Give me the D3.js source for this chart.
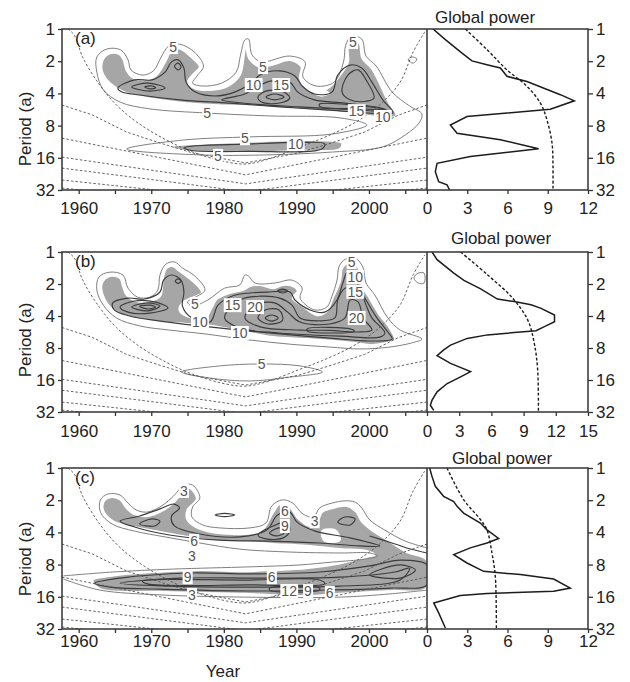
<!DOCTYPE html>
<html>
<head>
<meta charset="utf-8">
<title>Wavelet power spectra</title>
<script src="https://d3js.org/d3.v7.min.js"></script>
<style>
  body { margin: 0; background: #fff; }
</style>
</head>
<body>
<script>
// ---- axes ----
const yearTicks = [1960, 1965, 1970, 1975, 1980, 1985, 1990, 1995, 2000, 2005];
const periodTicks = [0, 1, 2, 3, 4, 5];          // log2 of period (a): 1 ... 32
const powerTicksA = [0, 3, 6, 9, 12];
const powerTicksB = [0, 3, 6, 9, 12, 15];
const powerTicksC = [0, 3, 6, 9, 12];

// ---- cone of influence, [year, log2 period] ----
const coiArc = [[1958.5,0],[1959.4,0.19],[1960.6,0.90],[1962.9,1.74],[1965.2,2.36],[1968.0,2.89],[1971.6,3.39],[1975.7,3.82],[1980.4,4.13],[1983.1,4.19],[1986.0,4.05],[1990.1,3.70],[1993.6,3.39],[1997.0,3.04],[1999.7,2.67],[2001.9,2.27],[2004.3,1.65],[2006.1,0.71],[2007.7,0.09]];
const coiV = [
  [[1957.7,2.36],[1961.9,2.67],[1966.6,3.20],[1971.2,3.54],[1975.7,3.85],[1983.0,4.16],[1990.3,3.85],[1994.8,3.54],[1999.4,3.20],[2004.1,2.67],[2008,2.36]],
  [[1957.7,3.39],[1983,4.53],[2008,3.39]],
  [[1957.7,3.98],[1983,4.81],[2008,3.98]],
  [[1957.7,4.32],[1983,5.05],[2008,4.32]],
  [[1957.7,4.69],[1983,5.3],[2008,4.69]],
  [[1957.7,4.94],[1983,5.5],[2008,4.94]]
];

// ---- panel (a) ----
const shadeA = [
  [[1963.1,1.17],[1963.4,0.91],[1964.3,0.75],[1965.6,0.78],[1966.2,0.96],[1966.6,1.27],[1967.5,1.51],[1969.1,1.58],[1970.7,1.43],[1971.9,1.02],[1972.8,0.65],[1973.9,0.60],[1975.5,0.86],[1976.7,1.17],[1975.8,1.41],[1975.1,1.64],[1976.0,1.84],[1978.1,1.89],[1980.4,1.79],[1982.2,1.43],[1982.7,0.91],[1983.0,0.44],[1983.5,0.91],[1985.0,1.17],[1986.8,1.10],[1989.1,0.96],[1990.7,1.17],[1990.5,1.53],[1991.4,1.84],[1993.2,1.95],[1994.6,1.79],[1996.0,1.43],[1997.1,1.02],[1997.1,0.55],[1997.8,0.34],[1998.7,0.44],[1999.1,0.91],[2000.4,1.22],[2001.5,1.69],[2002.7,2.26],[2003.8,2.69],[2002.4,2.77],[1999.7,2.69],[1996.0,2.59],[1991.4,2.52],[1986.8,2.44],[1982.2,2.39],[1978.5,2.36],[1974.9,2.31],[1971.2,2.21],[1968.4,2.10],[1966.1,1.95],[1964.3,1.69],[1963.4,1.43]],
  [[1972.8,3.66],[1982.2,3.51],[1993.2,3.45],[1996.3,3.54],[1996.0,3.73],[1990.5,3.79],[1980.8,3.85],[1973.9,3.76]]
];
const holesA = [[[1992.5,1.99],[1993.5,1.89],[1994.5,1.99],[1993.5,2.08]]];
const contoursA = [
  {lv: 5, pts: [[1962.5,1.34],[1962.5,0.87],[1963.9,0.62],[1965.8,0.65],[1966.8,0.96],[1967.2,1.27],[1968.8,1.43],[1970.3,1.30],[1971.3,0.90],[1972.4,0.53],[1973.9,0.47],[1975.9,0.71],[1977.2,1.15],[1976.3,1.46],[1975.7,1.68],[1977.0,1.77],[1979.7,1.68],[1981.7,1.34],[1982.3,0.81],[1982.9,0.34],[1983.4,0.31],[1983.9,0.81],[1985.2,1.02],[1989.1,0.84],[1991.2,1.02],[1990.9,1.49],[1992.7,1.77],[1995.2,1.65],[1996.5,1.02],[1996.8,0.50],[1997.6,0.22],[1999.0,0.31],[1999.6,0.84],[2001.0,1.15],[2003.2,1.96],[2005.6,2.39],[2007.3,2.64],[2006.9,2.92],[2005.0,3.29],[2001.9,3.66],[1995.0,3.82],[1985.9,3.91],[1976.7,3.91],[1966.6,3.73],[1974.3,3.45],[1983.6,3.35],[1995.0,3.26],[1999.7,2.98],[1996.0,2.76],[1986.3,2.70],[1977.7,2.61],[1969.8,2.48],[1965.7,2.27],[1963.4,1.89]]},
  {lv: 5, pts: [[2005.4,0.96],[2005.9,0.87],[2006.6,0.93],[2006.1,1.06]]},
  {lv: 10, pts: [[1965.4,1.83],[1967.7,1.58],[1970.1,1.58],[1971.9,1.34],[1972.8,1.02],[1973.7,0.96],[1974.5,1.21],[1974.8,1.65],[1976.1,1.96],[1978.8,2.08],[1981.5,1.96],[1983.6,1.71],[1985.2,1.40],[1987.7,1.30],[1989.8,1.46],[1990.8,1.77],[1992.5,2.02],[1994.9,1.96],[1995.7,1.43],[1997.4,1.12],[1999.0,1.21],[2000.4,1.65],[2001.9,2.20],[2003.3,2.60],[2000.8,2.62],[1994.6,2.52],[1987.7,2.42],[1980.8,2.30],[1973.9,2.20],[1968.4,2.05],[1965.9,1.95]]},
  {lv: 10, pts: [[1974.6,3.68],[1983.6,3.57],[1990.5,3.52],[1993.9,3.57],[1993.5,3.73],[1983.6,3.80],[1975.2,3.76]]},
  {lv: 15, pts: [[1979.7,2.20],[1982.9,2.02],[1984.7,1.77],[1986.6,1.61],[1989.1,1.65],[1990.2,1.96],[1992.5,2.20],[1996.7,2.30],[2001.5,2.45],[2002.6,2.55],[1997.4,2.50],[1990.5,2.42],[1983.6,2.32]]},
  {lv: 15, pts: [[1996.3,1.96],[1997.1,1.43],[1998.5,1.27],[1999.6,1.58],[2000.7,2.14],[1999.4,2.25],[1997.4,2.20]]},
  {lv: 15, pts: [[1967.3,1.80],[1969.5,1.68],[1971.9,1.83],[1969.8,1.93]]},
  {lv: 15, pts: [[1973.2,1.15],[1973.7,1.06],[1974.1,1.18],[1973.7,1.27]]},
  {lv: 20, pts: [[1969.1,1.80],[1970.1,1.77],[1970.6,1.83],[1969.8,1.86]]},
  {lv: 20, pts: [[1984.7,2.11],[1985.8,1.93],[1988.0,1.93],[1989.1,2.14],[1987.7,2.30],[1985.2,2.27]]},
  {lv: 20, pts: [[1993.2,2.33],[2000.1,2.42],[2002.2,2.50],[1998.7,2.48],[1993.2,2.40]]},
  {lv: 25, pts: [[1985.8,2.11],[1987.0,2.02],[1988.3,2.11],[1987.0,2.20]]}
];
const labelsA = [["5",1973.0,0.56],["5",1985.4,1.18],["10",1984.1,1.74],["15",1987.9,1.74],["5",1997.8,0.40],["5",1977.7,2.61],["15",1998.3,2.55],["10",2001.9,2.73],["5",1982.9,3.39],["10",1989.9,3.57],["5",1979.2,3.94]];
const globalA = [[0.45,0],[1.37,0.33],[2.61,0.75],[3.35,0.99],[4.47,1.11],[5.47,1.21],[5.96,1.47],[7.45,1.63],[9.94,2.04],[10.98,2.23],[9.19,2.49],[2.98,2.72],[1.74,2.98],[2.24,3.24],[5.47,3.44],[8.32,3.72],[3.23,3.96],[0.75,4.17],[0.62,4.43],[0.87,4.74],[1.49,4.84],[1.69,5.0]];
const signifA = [[2.86,0],[4.47,0.64],[5.96,1.27],[7.45,1.78],[8.45,2.30],[8.94,2.82],[9.32,3.55],[9.39,4.27],[9.39,5.0]];

// ---- panel (b) ----
const shadeB = [
  [[1963.2,0.97],[1964.3,0.75],[1965.7,0.81],[1966.1,1.06],[1966.6,1.34],[1968.0,1.53],[1969.8,1.53],[1971.2,1.38],[1971.6,0.81],[1972.1,0.50],[1973.0,0.44],[1973.9,0.59],[1975.6,0.88],[1976.7,1.13],[1977.0,1.28],[1975.6,1.44],[1974.3,1.59],[1973.9,1.81],[1974.9,2.00],[1977.4,2.06],[1978.3,1.75],[1979.0,1.47],[1980.8,1.28],[1982.6,1.19],[1983.6,1.06],[1985.0,1.03],[1986.8,1.13],[1988.1,1.03],[1989.5,1.06],[1990.2,1.22],[1989.5,1.44],[1990.9,1.69],[1992.8,1.97],[1994.2,1.84],[1995.0,1.44],[1996.0,0.91],[1996.3,0.50],[1997.0,0.34],[1998.1,0.34],[1998.7,0.59],[1999.0,1.03],[2000.1,1.44],[2001.5,1.97],[2002.9,2.38],[2003.6,2.75],[2002.5,2.84],[2000.5,2.91],[1997.8,2.84],[1995.0,2.78],[1991.4,2.72],[1986.8,2.66],[1982.9,2.50],[1978.1,2.31],[1974.9,2.25],[1971.2,2.19],[1967.4,2.06],[1964.7,1.81],[1963.3,1.34]]
];
const holesB = [];
const contoursB = [
  {lv: 5, pts: [[1962.5,1.19],[1962.8,0.78],[1964.3,0.63],[1966.1,0.72],[1966.8,1.13],[1968.1,1.41],[1969.8,1.41],[1970.9,1.19],[1971.2,0.72],[1972.0,0.38],[1973.2,0.31],[1974.3,0.50],[1976.0,0.75],[1977.4,1.19],[1976.1,1.41],[1975.0,1.56],[1975.6,1.69],[1977.8,1.50],[1980.1,1.13],[1982.2,1.03],[1982.9,0.72],[1983.4,0.75],[1984.3,0.97],[1987.0,0.97],[1989.4,0.88],[1990.8,1.13],[1990.5,1.44],[1992.5,1.81],[1994.2,1.72],[1994.9,1.38],[1995.6,0.88],[1995.9,0.44],[1996.8,0.22],[1998.3,0.22],[1999.2,0.50],[1999.6,0.97],[2000.8,1.34],[2002.6,2.06],[2004.3,2.44],[2007.3,2.72],[2005.9,2.84],[2002.9,2.97],[1998.7,3.03],[1994.6,2.97],[1989.1,2.88],[1983.6,2.75],[1977.4,2.56],[1972.5,2.44],[1968.4,2.31],[1965.2,2.06],[1963.4,1.66]]},
  {lv: 5, pts: [[1974.2,3.75],[1979.4,3.56],[1985.0,3.50],[1990.5,3.56],[1993.6,3.75],[1989.1,3.91],[1983.6,4.03],[1978.1,3.94]]},
  {lv: 5, pts: [[2006.2,0.81],[2006.8,0.66],[2007.6,0.66],[2007.6,0.97],[2006.8,0.97]]},
  {lv: 10, pts: [[1964.7,1.59],[1966.8,1.44],[1969.1,1.47],[1971.2,1.25],[1971.7,0.88],[1972.8,0.72],[1974.1,0.88],[1974.5,1.25],[1974.3,1.69],[1975.6,2.06],[1978.1,2.19],[1979.2,1.66],[1981.1,1.38],[1983.6,1.28],[1986.3,1.25],[1989.1,1.25],[1989.8,1.50],[1991.9,1.81],[1993.9,1.88],[1995.6,1.50],[1996.4,0.97],[1997.0,0.63],[1998.1,0.59],[1998.5,1.03],[1999.6,1.50],[2001.1,2.06],[2002.6,2.50],[2003.2,2.72],[2000.1,2.78],[1994.6,2.69],[1987.7,2.56],[1982.2,2.44],[1976.7,2.31],[1971.2,2.16],[1967.0,2.00],[1964.9,1.81]]},
  {lv: 10, pts: [[1973.3,0.91],[1973.7,0.84],[1974.1,0.91],[1973.7,0.98]]},
  {lv: 15, pts: [[1987.4,1.22],[1988.1,1.16],[1988.8,1.22],[1988.1,1.28]]},
  {lv: 15, pts: [[1965.7,1.72],[1967.7,1.53],[1970.5,1.56],[1972.3,1.75],[1969.8,1.91],[1966.8,1.88]]},
  {lv: 20, pts: [[1967.3,1.72],[1969.5,1.59],[1971.2,1.69],[1969.5,1.84]]},
  {lv: 25, pts: [[1968.4,1.70],[1969.8,1.66],[1970.6,1.72],[1969.5,1.78]]},
  {lv: 15, pts: [[1980.1,2.06],[1982.2,1.50],[1985.0,1.38],[1987.7,1.44],[1989.4,1.66],[1990.5,2.06],[1993.0,2.15],[1995.3,2.06],[1995.7,1.50],[1996.7,1.13],[1998.7,1.19],[1999.6,1.66],[2000.4,2.06],[2002.2,2.53],[2001.5,2.66],[1996.0,2.63],[1987.7,2.53],[1982.2,2.38]]},
  {lv: 20, pts: [[1982.9,2.06],[1984.3,1.66],[1987.0,1.59],[1988.8,1.88],[1990.5,2.19],[1994.6,2.25],[1996.7,2.06],[1997.4,1.50],[1998.5,1.56],[1999.2,2.06],[2000.4,2.44],[1998.4,2.50],[1994.6,2.45],[1990.5,2.44],[1985.0,2.34]]},
  {lv: 25, pts: [[1984.7,2.06],[1985.7,1.81],[1987.6,1.81],[1988.1,2.13],[1986.1,2.25]]},
  {lv: 30, pts: [[1985.7,2.06],[1986.6,1.97],[1987.5,2.06],[1986.6,2.16]]},
  {lv: 25, pts: [[1991.5,2.40],[1997.7,2.42],[1998.0,2.48],[1991.5,2.47]]}
];
const labelsB = [["5",1997.6,0.31],["10",1998.1,0.78],["15",1998.1,1.24],["5",1976.0,1.63],["15",1981.2,1.66],["20",1984.3,1.72],["10",1976.7,2.19],["10",1982.2,2.53],["20",1998.3,2.06],["5",1985.2,3.50]];
const globalB = [[0.47,0],[0.94,0.24],[2.5,0.66],[3.44,0.89],[5.0,1.15],[6.56,1.47],[8.13,1.55],[9.69,1.65],[10.63,1.76],[11.88,1.97],[11.88,2.18],[10.94,2.33],[10.16,2.46],[5.63,2.59],[3.75,2.70],[2.19,2.91],[1.56,3.06],[0.94,3.24],[2.19,3.48],[4.06,3.74],[3.13,3.90],[1.88,4.11],[0.94,4.37],[0.47,4.63],[0.31,4.79],[0.63,4.95]];
const signifB = [[3.13,0],[5.63,0.71],[7.97,1.44],[9.38,2.12],[10.0,2.86],[10.31,3.69],[10.38,5.0]];

// ---- panel (c) ----
const shadeC = [
  [[1963.3,1.27],[1963.6,0.99],[1964.6,0.90],[1965.8,0.99],[1966.6,1.24],[1967.7,1.43],[1969.5,1.49],[1971.4,1.34],[1973.1,1.06],[1974.3,0.75],[1975.3,0.62],[1976.3,0.96],[1975.0,1.30],[1975.0,1.61],[1976.7,1.89],[1981.2,2.05],[1985.2,1.93],[1986.8,1.37],[1987.7,1.12],[1989.1,1.21],[1990.2,1.55],[1991.9,1.80],[1993.0,1.61],[1993.5,1.37],[1995.0,1.24],[1997.0,1.18],[1998.3,1.37],[1999.0,1.65],[2000.4,1.93],[2002.6,2.24],[2005.2,2.61],[2008.0,2.86],[2008.0,3.73],[2002.9,3.82],[1996.0,3.91],[1991.4,3.98],[1982.9,3.91],[1971.2,3.85],[1962.9,3.76],[1961.9,3.48],[1964.3,3.35],[1975.7,3.17],[1982.9,3.20],[1986.8,3.17],[1991.4,3.11],[1996.0,2.96],[1999.7,2.76],[2000.8,2.70],[1999.7,2.58],[1996.0,2.52],[1991.4,2.42],[1986.8,2.36],[1982.9,2.30],[1978.5,2.27],[1974.9,2.14],[1971.2,1.99],[1967.4,1.83],[1964.7,1.65]]
];
const holesC = [[[1993.5,1.96],[1995.4,1.93],[1996.0,2.24],[1993.9,2.27]]];
const contoursC = [
  {lv: 3, open: true, pts: [[2008.0,2.48],[2005.0,2.27],[2002.2,1.93],[2000.1,1.61],[1999.0,1.24],[1998.1,1.06],[1996.7,1.02],[1994.9,1.09],[1993.2,1.24],[1992.4,1.52],[1990.9,1.43],[1989.5,1.09],[1988.1,0.99],[1986.6,1.18],[1985.8,1.71],[1983.6,1.86],[1979.4,1.86],[1977.1,1.77],[1975.6,1.52],[1975.7,1.21],[1976.7,0.93],[1975.7,0.53],[1974.6,0.53],[1972.8,0.93],[1971.2,1.21],[1969.4,1.37],[1967.9,1.30],[1966.8,1.09],[1965.7,0.84],[1964.0,0.81],[1963.0,0.99],[1963.0,1.37],[1964.6,1.74],[1967.7,1.96],[1971.9,2.14],[1976.7,2.33],[1982.2,2.52],[1989.1,2.61],[1996.0,2.64],[2000.1,2.64],[2001.2,2.73],[1999.4,2.83],[1995.0,2.92],[1990.5,3.01],[1983.6,3.07],[1972.9,3.14],[1964.7,3.23],[1957.9,3.35]]},
  {lv: 3, open: true, pts: [[1957.9,3.45],[1962.9,3.79],[1971.2,3.94],[1982.9,4.01],[1996.0,4.01],[2002.9,3.91],[2008.0,3.79]]},
  {lv: 6, pts: [[1978.8,1.46],[1980.1,1.41],[1981.5,1.46],[1980.1,1.51]]},
  {lv: 6, pts: [[1965.7,1.65],[1968.4,1.49],[1971.2,1.27],[1973.1,1.12],[1973.9,1.24],[1972.8,1.49],[1973.2,1.80],[1976.7,2.05],[1982.2,2.14],[1985.9,1.93],[1987.4,1.46],[1989.1,1.37],[1990.1,1.68],[1992.6,1.96],[1997.4,2.17],[2001.5,2.42],[1998.7,2.42],[1993.2,2.33],[1986.3,2.27],[1979.4,2.24],[1972.5,2.08],[1967.7,1.83]]},
  {lv: 6, open: true, pts: [[2000.1,2.11],[2003.6,2.36],[2005.6,2.51],[2008.0,2.64]]},
  {lv: 6, pts: [[1995.7,1.68],[1996.7,1.52],[1998.1,1.58],[1997.4,1.77]]},
  {lv: 6, pts: [[1962.2,3.58],[1965.7,3.42],[1975.3,3.26],[1983.6,3.29],[1993.2,3.23],[2000.1,3.04],[2004.3,2.86],[2008.0,3.01],[2008.0,3.63],[2002.9,3.73],[1994.6,3.79],[1983.6,3.82],[1971.2,3.76],[1964.3,3.70]]},
  {lv: 9, pts: [[1968.4,1.74],[1970.1,1.58],[1971.2,1.65],[1970.5,1.80]]},
  {lv: 9, pts: [[1984.7,2.08],[1986.8,1.80],[1988.6,1.68],[1989.1,1.93],[1988.2,2.17],[1985.8,2.20]]},
  {lv: 12, pts: [[1986.3,2.02],[1987.7,1.86],[1988.3,2.02],[1987.2,2.11]]},
  {lv: 9, pts: [[1965.7,3.58],[1973.9,3.42],[1985.0,3.42],[1996.0,3.39],[2003.6,3.23],[2005.6,3.11],[2004.3,3.48],[1996.0,3.67],[1985.0,3.70],[1972.4,3.67]]},
  {lv: 12, pts: [[1968.8,3.51],[1982.9,3.48],[1993.2,3.48],[1993.9,3.60],[1983.6,3.63],[1969.5,3.60]]},
  {lv: 15, pts: [[1986.3,3.73],[1993.2,3.73],[1993.2,3.79],[1986.3,3.79]]},
  {lv: 9, pts: [[2000.1,3.32],[2004.3,3.01],[2006.4,3.17],[2004.3,3.42]]}
];
const labelsC = [["3",1974.5,0.71],["6",1988.4,1.34],["9",1988.4,1.80],["3",1992.5,1.65],["6",1975.9,2.26],["3",1975.6,2.72],["9",1975.0,3.39],["6",1986.6,3.39],["12",1989.0,3.82],["9",1991.6,3.82],["6",1994.6,3.88],["3",1975.6,3.94]];
const globalC = [[0.2,0],[0.37,0.26],[0.62,0.57],[1.24,0.88],[1.99,1.04],[2.24,1.19],[2.73,1.40],[3.98,1.71],[4.47,1.92],[5.34,2.19],[4.47,2.33],[3.23,2.48],[1.99,2.69],[2.98,2.95],[4.22,3.21],[6.96,3.31],[9.44,3.45],[10.68,3.73],[9.44,3.83],[4.47,3.90],[2.48,3.96],[0.5,4.19],[0.87,4.50],[1.37,4.97]];
const signifC = [[1.49,0],[2.73,0.98],[3.98,1.60],[4.47,1.92],[4.84,2.64],[5.09,3.36],[5.17,5.0]];

// ---- layout ----
const FONT = "'Liberation Sans', Arial, sans-serif";
const left = 62, mid = 427, right = 588;
const panels = [
  {tag: "(a)", top: 29, bottom: 190, shade: shadeA, holes: holesA, contours: contoursA, labels: labelsA, gp: globalA, sig: signifA, pMax: 12, pTicks: powerTicksA, tx: 485, ty: 23, pad: 8, py: 129},
  {tag: "(b)", top: 252, bottom: 412, shade: shadeB, holes: holesB, contours: contoursB, labels: labelsB, gp: globalB, sig: signifB, pMax: 15, pTicks: powerTicksB, tx: 501, ty: 244, pad: 9, py: 340},
  {tag: "(c)", top: 468, bottom: 629, shade: shadeC, holes: holesC, contours: contoursC, labels: labelsC, gp: globalC, sig: signifC, pMax: 12, pTicks: powerTicksC, tx: 502, ty: 464, pad: 2, py: 559}
];

const svg = d3.select("body").append("svg").attr("width", 630).attr("height", 682)
  .style("font-family", FONT);
const x = d3.scaleLinear().domain([1957.7, 2008]).range([left, mid]);
const defs = svg.append("defs");

panels.forEach((p, i) => {
  const y = d3.scaleLinear().domain([0, 5]).range([p.top, p.bottom]);
  const gx = d3.scaleLinear().domain([0, p.pMax]).range([mid, right]);

  defs.append("clipPath").attr("id", "cl" + i).append("rect")
    .attr("x", left).attr("y", p.top).attr("width", mid - left).attr("height", p.bottom - p.top);
  defs.append("clipPath").attr("id", "cg" + i).append("rect")
    .attr("x", mid).attr("y", p.top).attr("width", right - mid).attr("height", p.bottom - p.top);

  const closed = d3.line().x(d => x(d[0])).y(d => y(d[1])).curve(d3.curveCatmullRomClosed.alpha(0.5));
  const open = d3.line().x(d => x(d[0])).y(d => y(d[1])).curve(d3.curveCatmullRom.alpha(0.5));
  const straight = d3.line().x(d => x(d[0])).y(d => y(d[1]));

  const plot = svg.append("g").attr("clip-path", `url(#cl${i})`);

  // significant regions
  plot.append("g").selectAll("path").data(p.shade).join("path")
    .attr("d", closed).attr("fill", "#a6a6a6").attr("stroke", "#fff").attr("stroke-width", 2.2);
  plot.append("g").selectAll("path").data(p.holes).join("path")
    .attr("d", closed).attr("fill", "#fff").attr("stroke", "#fff").attr("stroke-width", 1.5);

  // contour lines
  const low = d3.min(p.contours, c => c.lv);
  plot.append("g").selectAll("path").data(p.contours).join("path")
    .attr("d", c => (c.open ? open : closed)(c.pts))
    .attr("fill", "none")
    .attr("stroke", c => c.lv === low ? "#808080" : "#3c3c3c")
    .attr("stroke-width", c => c.lv === low ? 1 : 1.15);

  // cone of influence
  const coi = plot.append("g").attr("fill", "none").attr("stroke", "#555")
    .attr("stroke-width", 0.9).attr("stroke-dasharray", "2.5,2");
  coi.append("path").datum(coiArc).attr("d", open);
  coi.selectAll(".v").data(coiV).join("path").attr("d", straight);

  // contour labels
  const lab = plot.append("g").selectAll("g").data(p.labels).join("g")
    .attr("transform", d => `translate(${x(d[1])},${y(d[2])})`);
  lab.append("text").text(d => d[0])
    .attr("text-anchor", "middle").attr("dy", "0.36em")
    .attr("font-size", 14).attr("fill", "#555");
  lab.each(function () {
    const g = d3.select(this);
    const b = g.select("text").node().getBBox();
    g.insert("rect", "text").attr("x", b.x - 1).attr("y", b.y + 1)
      .attr("width", b.width + 2).attr("height", b.height - 2).attr("fill", "#fff");
  });

  // global power
  const gpl = svg.append("g").attr("clip-path", `url(#cg${i})`).attr("fill", "none");
  gpl.append("path").datum(p.gp)
    .attr("d", d3.line().x(d => gx(d[0])).y(d => y(d[1])))
    .attr("stroke", "#1c1c1c").attr("stroke-width", 1.5);
  gpl.append("path").datum(p.sig)
    .attr("d", d3.line().x(d => gx(d[0])).y(d => y(d[1])).curve(d3.curveCatmullRom))
    .attr("stroke", "#1c1c1c").attr("stroke-width", 1.4).attr("stroke-dasharray", "3,2");

  // frames
  svg.append("rect").attr("x", left).attr("y", p.top)
    .attr("width", right - left).attr("height", p.bottom - p.top)
    .attr("fill", "none").attr("stroke", "#333").attr("stroke-width", 1.5);
  svg.append("line").attr("x1", mid).attr("x2", mid).attr("y1", p.top).attr("y2", p.bottom)
    .attr("stroke", "#333").attr("stroke-width", 1.5);

  // axes
  const ax = (gen, tx, ty) => svg.append("g").attr("transform", `translate(${tx},${ty})`)
    .call(gen)
    .call(g => g.select(".domain").remove())
    .call(g => g.attr("font-family", FONT).attr("font-size", 17))
    .call(g => g.selectAll("text").attr("fill", "#222"))
    .call(g => g.selectAll(".tick line").attr("stroke", "#333").attr("stroke-width", 1.3));
  ax(d3.axisLeft(y).tickValues(periodTicks).tickFormat(d => 2 ** d).tickSize(4).tickPadding(3), left, 0);
  ax(d3.axisRight(y).tickValues(periodTicks).tickFormat(d => 2 ** d).tickSize(5).tickPadding(3), right, 0);
  ax(d3.axisBottom(x).tickValues(yearTicks).tickFormat(d => d % 10 ? "" : d).tickSize(4).tickPadding(p.pad), 0, p.bottom);
  ax(d3.axisBottom(gx).tickValues(p.pTicks).tickSize(4).tickPadding(p.pad), 0, p.bottom);

  // texts
  svg.append("text").attr("x", 75).attr("y", p.top + 15).attr("font-size", 17).attr("fill", "#222").text(p.tag);
  svg.append("text").attr("x", p.tx).attr("y", p.ty).attr("text-anchor", "middle")
    .attr("font-size", 17).attr("fill", "#222").text("Global power");
  svg.append("text").attr("transform", `translate(31,${p.py}) rotate(-90)`)
    .attr("text-anchor", "middle").attr("font-size", 17).attr("fill", "#222").text("Period (a)");
});

svg.append("text").attr("x", 223).attr("y", 677).attr("text-anchor", "middle")
  .attr("font-size", 17).attr("fill", "#222").text("Year");
</script>
</body>
</html>
